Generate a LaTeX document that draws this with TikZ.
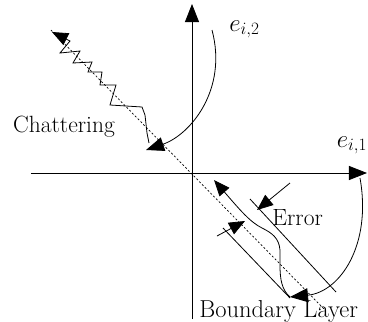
\documentclass[tikz,border=0pt]{standalone}
\usetikzlibrary{arrows.meta}
\begin{document}
\begin{tikzpicture}[x=1pt, y=-1pt, line width=0.8pt,
    bigtip/.style={-{Triangle[length=18pt,width=14pt]}},
    trajtip/.style={-{Triangle[length=16pt,width=13pt]}},
    lbl/.style={font=\fontsize{23.5}{28}\selectfont, inner sep=0pt}]
    \useasboundingbox (0,0) rectangle (368,322);
    % axes
    \coordinate (xl) at (31,173);
    \coordinate (xr) at (367,173);
    \coordinate (yb) at (192,319);
    \coordinate (yt) at (192,4);
    \draw[bigtip] (xl) -- (xr);
    \draw[bigtip] (yb) -- (yt);
    \node[lbl, anchor=base west] (e2) at (229,31) {$e_{i,2}$};
    \node[lbl, anchor=base east] (e1) at (367.5,147) {$e_{i,1}$};
    % sliding line and boundary layer
    \coordinate (s1) at (51,30);
    \coordinate (s2) at (325,310);
    \draw[line width=0.7pt, dash pattern=on 2pt off 2pt] (s1) -- (s2);
    \coordinate (bu1) at (250,199);
    \coordinate (bu2) at (336,292);
    \coordinate (bl1) at (223,228);
    \coordinate (bl2) at (290,298);
    \draw (bu1) -- (bu2);
    \draw (bl1) -- (bl2);
    % error arrows
    \coordinate (ea1) at (290,183);
    \coordinate (eb1) at (257,210);
    \coordinate (ea2) at (217,236);
    \coordinate (eb2) at (245,221);
    \draw[trajtip] (ea1) -- (eb1);
    \draw[trajtip] (ea2) -- (eb2);
    \node[lbl, anchor=base west] (err) at (272,225) {Error};
    \node[lbl, anchor=base west, font=\fontsize{24.5}{29}\selectfont] (bnd) at (199,317) {Boundary Layer};
    % reaching arcs
    \coordinate (a1) at (212,30);
    \coordinate (a2) at (146,150);
    \draw[bigtip] (a1) .. controls (228,90) and (190,135) .. (a2);
    \coordinate (r1) at (360,178);
    \coordinate (r2) at (290,297);
    \draw[bigtip] (r1) .. controls (372,245) and (340,292) .. (r2);
    % chattering
    \coordinate (c0) at (149,143);
    \coordinate (c1) at (52,32);
    \draw[trajtip] (c0) -- (147,133) -- (145,115) -- (142,107) -- (110,105)
        -- (116,85) -- (100,85) -- (102,72) -- (88,72) -- (92,62) -- (73,63)
        -- (80,51) -- (60,53) -- (70,41) -- (c1);
    \node[lbl, anchor=base] (chat) at (64,132) {Chattering};
    % trajectory inside the layer
    \coordinate (t1) at (214,180);
    \draw[trajtip] (r2) .. controls (282,290) and (280,280) .. (280,265)
        -- (280,250) .. controls (279,238) and (272,233) .. (262,228)
        .. controls (250,222) and (240,210) .. (t1);
\end{tikzpicture}
\end{document}
